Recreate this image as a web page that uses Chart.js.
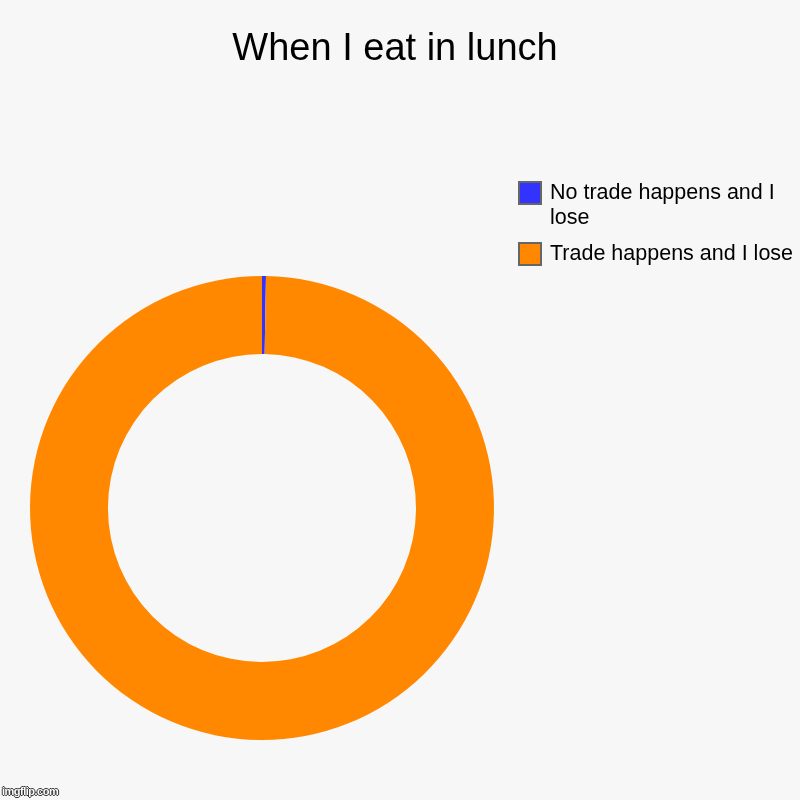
<!DOCTYPE html>
<html>
<head>
<meta charset="utf-8">
<script src="https://cdn.jsdelivr.net/npm/chart.js@4/dist/chart.umd.min.js"></script>
<style>
  html, body { margin: 0; padding: 0; background: #f7f7f7; }
  #wrap { position: relative; width: 800px; height: 800px; background: #f7f7f7; font-family: "Liberation Sans", Arial, sans-serif; }
  canvas { position: absolute; left: 0; top: 0; }
  #title { position: absolute; left: 0; width: 790px; top: 23px; text-align: center; font-size: 38px; color: #000; line-height: 48px; }
  #legend { position: absolute; left: 518px; top: 181px; width: 282px; }
  .item { display: flex; align-items: flex-start; margin-bottom: 12px; }
  .box { width: 20px; height: 20px; border: 2px solid #666; flex: none; }
  .lbl { margin-left: 8px; width: 250px; font-size: 21.5px; line-height: 25px; color: #000; margin-top: -1px; }
  #wm { position: absolute; left: 2px; bottom: 3px; font-size: 11px; font-weight: bold; color: #fff; letter-spacing: -0.5px;
        text-shadow: -1px 0 #333, 1px 0 #333, 0 -1px #333, 0 1px #333; }
</style>
</head>
<body>
<div id="wrap">
  <canvas id="c" width="800" height="800"></canvas>
  <div id="title"></div>
  <div id="legend"></div>
  <div id="wm">imgflip.com</div>
</div>
<script>
const chartTitle = "When I eat in lunch";
const categories = ["No trade happens and I lose", "Trade happens and I lose"];
const values = [1, 365];
const colors = ["#3333ff", "#ff8800"];

document.getElementById('title').textContent = chartTitle;
const legend = document.getElementById('legend');
categories.forEach((c, i) => {
  const it = document.createElement('div');
  it.className = 'item';
  const b = document.createElement('div');
  b.className = 'box';
  b.style.background = colors[i];
  const l = document.createElement('div');
  l.className = 'lbl';
  l.textContent = c;
  it.appendChild(b); it.appendChild(l);
  legend.appendChild(it);
});

new Chart(document.getElementById('c'), {
  type: 'doughnut',
  data: {
    labels: categories,
    datasets: [{ data: values, backgroundColor: colors, borderWidth: 0, hoverOffset: 0 }]
  },
  options: {
    responsive: false,
    devicePixelRatio: 1,
    animation: false,
    cutout: '66.4%',
    layout: { padding: { left: 30, right: 306, top: 276, bottom: 60 } },
    plugins: { legend: { display: false }, title: { display: false }, tooltip: { enabled: false } },
    events: []
  }
});
</script>
</body>
</html>
